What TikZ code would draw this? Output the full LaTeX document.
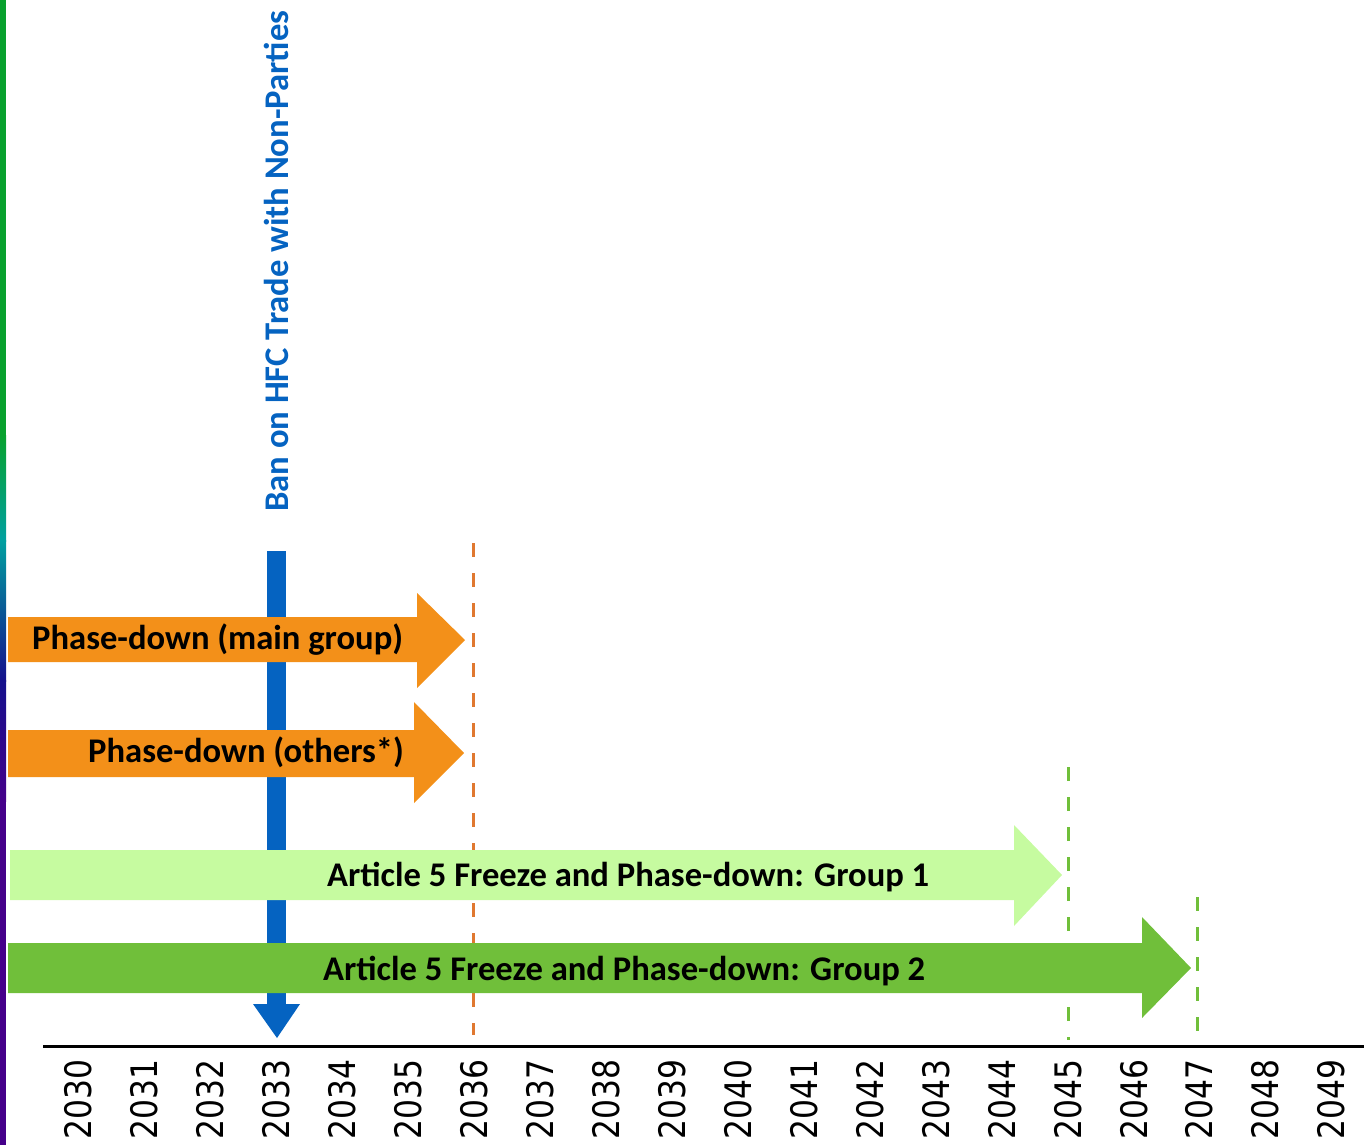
\documentclass[tikz,border=0pt]{standalone}
\usepackage{fontspec}
\setmainfont{Carlito}
\newfontfamily\yearfont[FakeStretch=0.86]{DejaVu Sans}
\usepackage{tikz}
\usetikzlibrary{calc}
\definecolor{phaseorange}{HTML}{F39019}
\definecolor{dashorange}{HTML}{E07830}
\definecolor{groupone}{HTML}{C6FBA0}
\definecolor{grouptwo}{HTML}{70BF3A}
\definecolor{banblue}{HTML}{0563C1}
\definecolor{stripgreen}{HTML}{08A12E}
\definecolor{stripteal}{HTML}{00A0A0}
\definecolor{stripnavy}{HTML}{14108C}
\definecolor{strippurple}{HTML}{45008A}

\tikzset{
  barlabel/.style={inner sep=0pt, anchor=base west, font=\fontsize{34.6}{34.6}\selectfont\bfseries},
  yearlabel/.style={inner sep=0pt, anchor=west, rotate=90, font=\fontsize{36.5}{36.5}\selectfont\yearfont},
  marker/.style={line width=3pt, dash pattern=on 14pt off 16pt}
}

\begin{document}
\begin{tikzpicture}[x=1pt, y=-1pt]
  \useasboundingbox (0,0) rectangle (1364,1145);

  % coloured strip on the left edge
  \fill[stripgreen] (0,0) rectangle (6,436);
  \shade[top color=stripgreen, bottom color=stripteal] (0,435) rectangle (6,541);
  \shade[top color=stripteal, bottom color=stripnavy] (0,540) rectangle (6,681);
  \shade[top color=stripnavy, bottom color=strippurple] (0,680) rectangle (6,801);
  \fill[strippurple] (0,800) rectangle (6,1145);

  % year marks
  \coordinate (m2036) at (473,543);
  \coordinate (m2045) at (1068,767);
  \coordinate (m2047) at (1197,897);
  \draw[marker, dashorange] (m2036) -- (473,1035);
  \draw[marker, grouptwo] (m2045) -- (1068,1040);
  \draw[marker, grouptwo] (m2047) -- (1197,1040);

  % ban on trade
  \fill[banblue] (267,551) rectangle (286,1005);
  \fill[banblue] (253,1004) -- (300,1004) -- (277,1038) -- cycle;
  \node[barlabel, rotate=90, banblue] (ban) at (288,512) {Ban on HFC Trade with Non-Parties};

  % phase-down bars
  \fill[phaseorange] (8,617) -- (417,617) -- (417,593) -- (465,640) -- (417,688) -- (417,662) -- (8,662) -- cycle;
  \node[barlabel] (main) at (32,649) {Phase-down (main group)};

  \fill[phaseorange] (8,730) -- (414,730) -- (414,702) -- (464,753) -- (414,803) -- (414,777) -- (8,777) -- cycle;
  \node[barlabel] (others) at (88,762) {Phase-down (others*)};

  \fill[groupone] (10,850) -- (1014,850) -- (1014,825) -- (1062,875) -- (1014,926) -- (1014,900) -- (10,900) -- cycle;
  \node[barlabel] (grp1) at (327,886) {Article 5 Freeze and Phase-down: Group 1};

  \fill[grouptwo] (8,943) -- (1142,943) -- (1142,917) -- (1191,968) -- (1142,1018) -- (1142,993) -- (8,993) -- cycle;
  \node[barlabel] (grp2) at (323,980) {Article 5 Freeze and Phase-down: Group 2};

  % time axis
  \draw[line width=3pt] (43,1046) -- (1364,1046);
  \foreach \i in {0,...,19} {
    \pgfmathtruncatemacro\yr{2030+\i}
    \node[yearlabel] (y\yr) at ({78.5+65.95*\i},1140) {\yr};
  }
\end{tikzpicture}
\end{document}
